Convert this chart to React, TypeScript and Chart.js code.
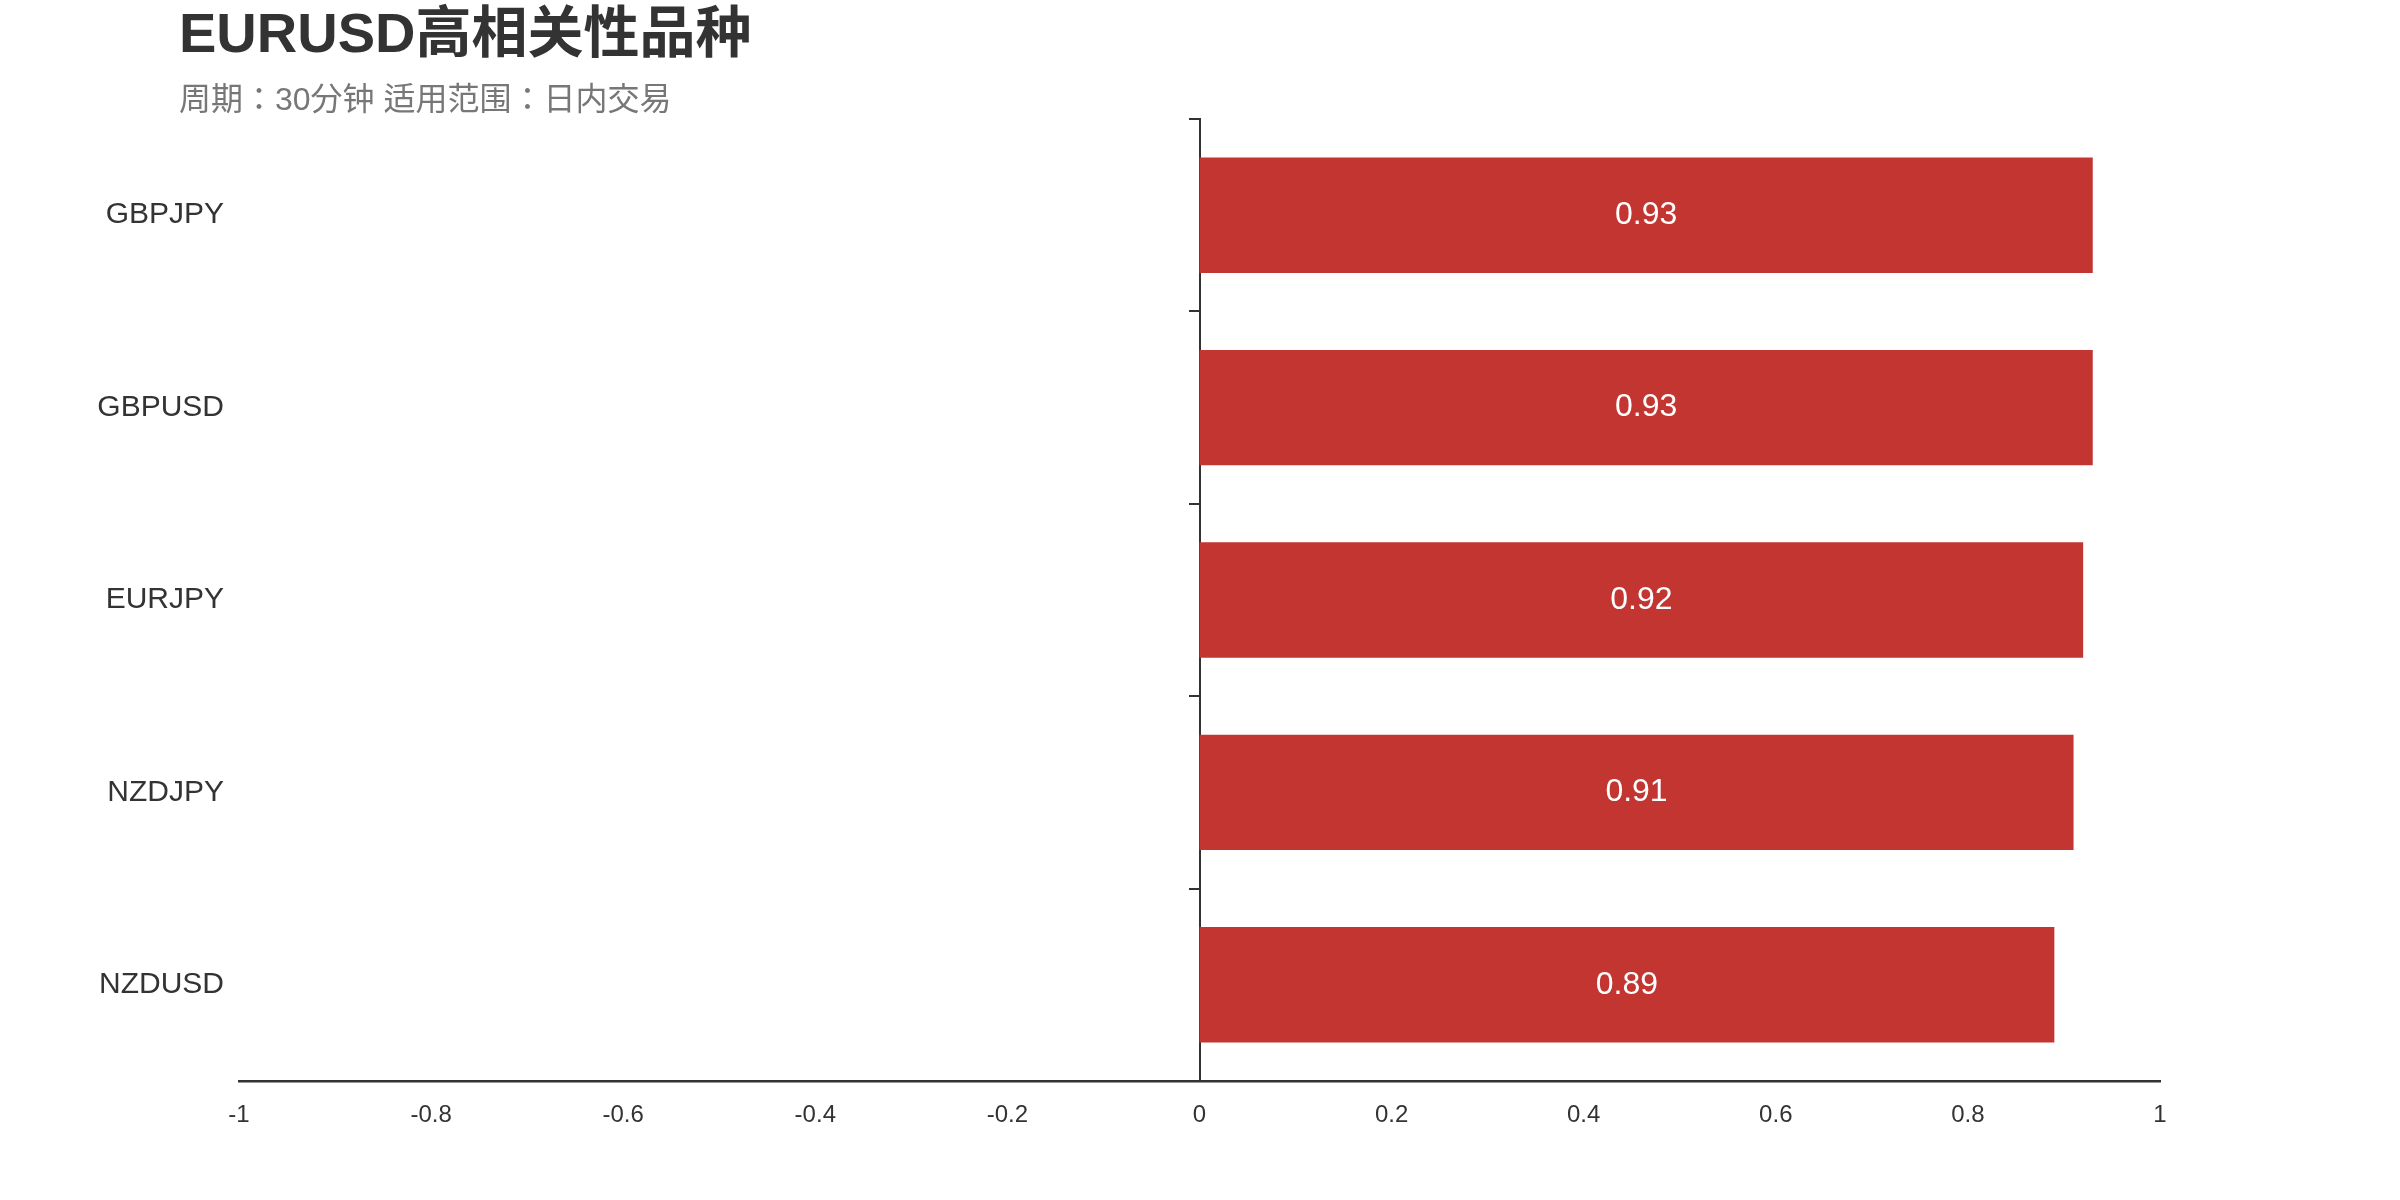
import React, { useRef, useEffect } from 'react'
import Chart from 'chart.js/auto'

const pairs = ['GBPJPY', 'GBPUSD', 'EURJPY', 'NZDJPY', 'NZDUSD']
const correlations = [0.93, 0.93, 0.92, 0.91, 0.89]

const title = 'EURUSD高相关性品种'
const subtitle = '周期：30分钟 适用范围：日内交易'

const FONT = '"Liberation Sans", "Noto Sans CJK SC", sans-serif'
const SUB_FONT = '"Liberation Sans", "Noto Sans CJK JP", sans-serif'

// white value text in the middle of each bar
const barValues = {
  id: 'barValues',
  afterDatasetsDraw(chart: any) {
    const ctx = chart.ctx
    chart.data.datasets.forEach((ds: any, i: number) => {
      chart.getDatasetMeta(i).data.forEach((bar: any, j: number) => {
        const { x, y, base } = bar.getProps(['x', 'y', 'base'], true)
        ctx.save()
        ctx.fillStyle = '#fff'
        ctx.font = '32px ' + FONT
        ctx.textAlign = 'center'
        ctx.textBaseline = 'middle'
        ctx.fillText(String(ds.data[j]), (x + base) / 2, y)
        ctx.restore()
      })
    })
  },
}

const App: React.FC = () => {
  const canvasRef = useRef<HTMLCanvasElement>(null)

  useEffect(() => {
    if (!canvasRef.current) return
    const ctx = canvasRef.current.getContext('2d')
    if (!ctx) return

    let chart = Chart.getChart(canvasRef.current)
    if (chart) chart.destroy()

    chart = new Chart(ctx, {
      type: 'bar',
      data: {
        labels: pairs,
        datasets: [
          {
            data: correlations,
            backgroundColor: '#c23531',
            barPercentage: 0.6,
            categoryPercentage: 1,
            xAxisID: 'x',
            yAxisID: 'y',
          },
        ],
      },
      plugins: [barValues],
      options: {
        indexAxis: 'y',
        responsive: false,
        animation: false,
        devicePixelRatio: 1,
        layout: { padding: { top: 119, right: 240, left: 0, bottom: 0 } },
        plugins: {
          legend: { display: false },
          tooltip: { enabled: false },
        },
        scales: {
          x: {
            type: 'linear',
            position: 'bottom',
            min: -1,
            max: 1,
            grid: { display: false },
            border: { display: true, color: '#333', width: 2.5 },
            ticks: {
              stepSize: 0.2,
              color: '#333',
              padding: 12,
              font: { size: 24, family: FONT },
              callback: (v: any) => String(Math.round(Number(v) * 10) / 10),
            },
            afterFit: (scale: any) => {
              scale.height = 119
            },
          },
          y: {
            type: 'category',
            position: 'left',
            grid: { display: false },
            border: { display: false },
            ticks: {
              color: '#333',
              padding: 7,
              font: { size: 30, family: FONT },
            },
            afterFit: (scale: any) => {
              scale.width = 239
            },
          },
          // axis line sitting on x = 0 with tick marks between categories
          y0: {
            type: 'category',
            axis: 'y',
            position: { x: 0 },
            offset: true,
            grid: {
              display: true,
              drawOnChartArea: false,
              drawTicks: true,
              tickLength: 10,
              offset: true,
              color: '#333',
              lineWidth: 2,
            },
            border: { display: true, color: '#333', width: 2 },
            ticks: { display: false },
          },
        } as any,
      },
    })

    return () => {
      if (chart) chart.destroy()
    }
  }, [])

  return (
    <div style={{ position: 'absolute', left: 0, top: 0, width: 2400, height: 1200, background: '#fff' }}>
      <canvas ref={canvasRef} width={2400} height={1200} style={{ display: 'block' }} />
      <div
        style={{
          position: 'absolute',
          left: 179,
          top: 5,
          fontFamily: FONT,
          fontWeight: 'bold',
          fontSize: 56,
          lineHeight: '56px',
          color: '#333',
          whiteSpace: 'nowrap',
        }}
      >
        {title}
      </div>
      <div
        style={{
          position: 'absolute',
          left: 179,
          top: 83,
          fontFamily: SUB_FONT,
          fontSize: 32,
          lineHeight: '32px',
          color: '#777',
          whiteSpace: 'nowrap',
        }}
      >
        {subtitle}
      </div>
    </div>
  )
}

export default App
